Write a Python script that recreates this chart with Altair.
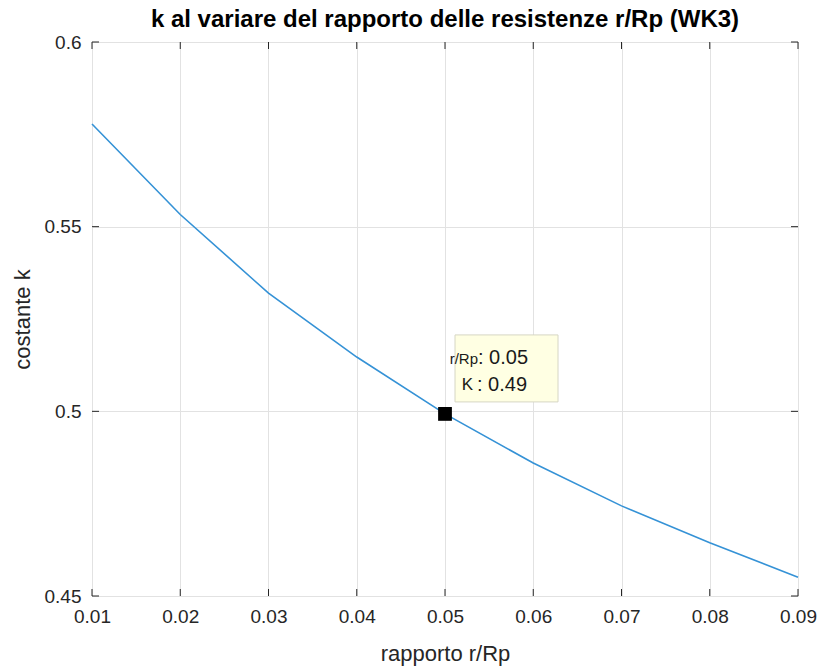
import altair as alt
import pandas as pd

# ---- data ----
ratio = [0.01, 0.02, 0.03, 0.04, 0.05, 0.06, 0.07, 0.08, 0.09]
k_val = [0.5778, 0.5533, 0.5320, 0.5147, 0.4993, 0.4860, 0.4744, 0.4644, 0.4551]

x_ticks = [0.01, 0.02, 0.03, 0.04, 0.05, 0.06, 0.07, 0.08, 0.09]
y_ticks = [0.45, 0.5, 0.55, 0.6]

tip_x = [0.05]
tip_y = [0.4993]
tip_label_x = ["r/Rp"]
tip_value_x = [": 0.05"]
tip_label_y = ["K"]
tip_value_y = [": 0.49"]

W, H = 706, 554
FONT = "Liberation Sans"
AX_COL = "#262626"

df = pd.DataFrame({"r": ratio, "k": k_val})
dxt = pd.DataFrame({"t": x_ticks})
dyt = pd.DataFrame({"t": y_ticks})
dtip = pd.DataFrame({"x": tip_x, "y": tip_y, "lx": tip_label_x, "vx": tip_value_x,
                     "ly": tip_label_y, "vy": tip_value_y})

xscale = alt.Scale(domain=[0.01, 0.09], nice=False, zero=False)
yscale = alt.Scale(domain=[0.45, 0.6], nice=False, zero=False)

xaxis = alt.Axis(values=x_ticks, format="~g", title="rapporto r/Rp", grid=True,
                 gridColor="#e2e2e2", gridWidth=1, domain=False, ticks=False,
                 labelFont=FONT, labelFontSize=19, labelColor=AX_COL, labelPadding=11,
                 titleFont=FONT, titleFontSize=22, titleFontWeight="normal",
                 titleColor=AX_COL, titlePadding=17, labelFlush=False)
yaxis = alt.Axis(values=y_ticks, format="~g", title="costante k", grid=True,
                 gridColor="#e2e2e2", gridWidth=1, domain=False, ticks=False,
                 labelFont=FONT, labelFontSize=19, labelColor=AX_COL, labelPadding=11,
                 titleFont=FONT, titleFontSize=22, titleFontWeight="normal",
                 titleColor=AX_COL, titlePadding=10, labelFlush=False)

line = alt.Chart(df).mark_line(color="#3592d6", strokeWidth=1.6).encode(
    x=alt.X("r:Q", scale=xscale, axis=xaxis),
    y=alt.Y("k:Q", scale=yscale, axis=yaxis),
)

tick_len = 7
xt_bottom = alt.Chart(dxt).mark_rule(color=AX_COL, strokeWidth=1).encode(
    x=alt.X("t:Q", scale=xscale), y=alt.value(H), y2=alt.value(H - tick_len))
xt_top = alt.Chart(dxt).mark_rule(color=AX_COL, strokeWidth=1).encode(
    x=alt.X("t:Q", scale=xscale), y=alt.value(0), y2=alt.value(tick_len))
yt_left = alt.Chart(dyt).mark_rule(color=AX_COL, strokeWidth=1).encode(
    y=alt.Y("t:Q", scale=yscale), x=alt.value(0), x2=alt.value(tick_len))
yt_right = alt.Chart(dyt).mark_rule(color=AX_COL, strokeWidth=1).encode(
    y=alt.Y("t:Q", scale=yscale), x=alt.value(W), x2=alt.value(W - tick_len))

base_tip = alt.Chart(dtip)
box = base_tip.mark_rect(fill="#ffffe3", stroke="#d6d6c4", strokeWidth=1,
                         xOffset=10, x2Offset=113, yOffset=-79, y2Offset=-12).encode(
    x=alt.X("x:Q", scale=xscale), x2="x:Q",
    y=alt.Y("y:Q", scale=yscale), y2="y:Q")
marker = base_tip.mark_square(color="black", size=190, opacity=1).encode(
    x=alt.X("x:Q", scale=xscale), y=alt.Y("y:Q", scale=yscale))
t1a = base_tip.mark_text(font=FONT, fontSize=15, color="#1a1a1a", align="right",
                         baseline="middle", dx=33, dy=-55).encode(
    x=alt.X("x:Q", scale=xscale), y=alt.Y("y:Q", scale=yscale), text="lx:N")
t1b = base_tip.mark_text(font=FONT, fontSize=20, color="#1a1a1a", align="left",
                         baseline="middle", dx=33, dy=-56).encode(
    x=alt.X("x:Q", scale=xscale), y=alt.Y("y:Q", scale=yscale), text="vx:N")
t2a = base_tip.mark_text(font=FONT, fontSize=17, color="#1a1a1a", align="right",
                         baseline="middle", dx=28, dy=-29).encode(
    x=alt.X("x:Q", scale=xscale), y=alt.Y("y:Q", scale=yscale), text="ly:N")
t2b = base_tip.mark_text(font=FONT, fontSize=20, color="#1a1a1a", align="left",
                         baseline="middle", dx=32, dy=-29).encode(
    x=alt.X("x:Q", scale=xscale), y=alt.Y("y:Q", scale=yscale), text="vy:N")

chart = alt.layer(line, xt_bottom, xt_top, yt_left, yt_right, box, marker,
                  t1a, t1b, t2a, t2b).properties(
    width=W, height=H,
    title=alt.TitleParams("k al variare del rapporto delle resistenze r/Rp (WK3)",
                          font=FONT, fontSize=24, fontWeight="bold", color="black",
                          anchor="middle", frame="group", offset=1),
    autosize=alt.AutoSizeParams(type="none"),
    padding={"left": 92, "top": 42, "right": 22, "bottom": 72},
).configure_view(stroke=AX_COL, strokeWidth=1).configure(background="white")

chart.save("out.html", embed_options={"renderer": "svg", "actions": False})
